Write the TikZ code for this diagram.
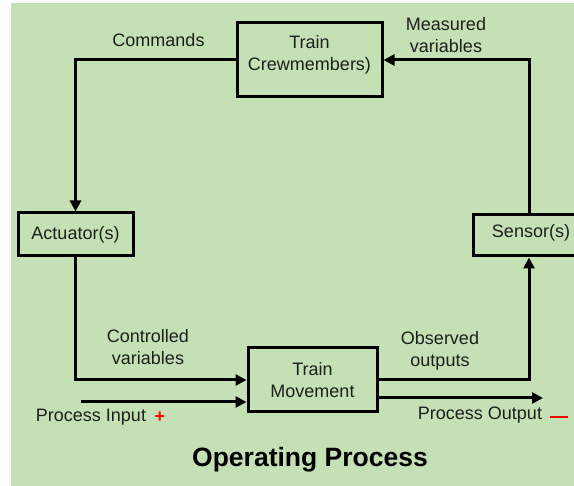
\documentclass[tikz,border=0pt]{standalone}
\usepackage{fontspec}
\setmainfont{Liberation Sans}
\usetikzlibrary{arrows.meta}
\definecolor{bggreen}{RGB}{197,224,180}
\definecolor{ink}{RGB}{30,30,30}

\begin{document}
\begin{tikzpicture}[x=1pt,y=-1pt,
  box/.style={draw=black, line width=3pt, minimum width=#1},
  txt/.style={text=ink, font=\fontsize{18}{22}\selectfont, align=center, inner sep=0pt},
  flow/.style={line width=3pt, -{Triangle[length=11pt,width=11pt]}}]
\useasboundingbox (0,0) rectangle (574,486);
\clip (0,0) rectangle (574,486);
\fill[bggreen] (11,3) rectangle (574,486);

% blocks
\node[box=145pt, minimum height=74pt] (crew) at (309.5,60) {};
\node[txt] (crewtxt) at ([yshift=5pt]crew.center) {Train\\Crewmembers)};
\node[box=115pt, minimum height=43pt, txt, draw] (act) at (75.5,234.5) {Actuator(s)};
\node[box=112pt, minimum height=41pt] (sens) at (529,235.5) {};
\node[txt] (senstxt) at (531,233) {Sensor(s)};
\node[box=129pt, minimum height=64pt, txt, draw] (move) at (312.5,380) {Train\\Movement};

% loop
\draw[flow] (crew.west) -| (act.north);
\draw[flow] (sens.north) |- (crew.east);
\draw[flow] (act.south) |- (move.west);
\draw[flow] (move.east) -| (sens.south);

% process in / out
\coordinate (inp) at (81,402);
\coordinate (outp) at (543,398);
\draw[flow] (inp) -- (move.west |- inp);
\draw[flow] (move.east |- outp) -- (outp);

% labels
\node[txt] (cmd) at (158.5,40) {Commands};
\node[txt] (meas) at (446,35) {Measured\\variables};
\node[txt] (ctrl) at (148,347) {Controlled\\variables};
\node[txt] (obs) at (440,351) {Observed\\outputs};
\node[txt] (pin) at (91,417) {Process Input};
\node[txt, text=red, font=\fontsize{18}{20}\selectfont\bfseries] (plus) at (160,417) {+};
\node[txt] (pout) at (480,415) {Process Output};
\draw[red, line width=2.6pt] (550,417) -- (568,417);
\node[txt, font=\fontsize{26.5}{30}\selectfont\bfseries, text=black] (title) at (310,460) {Operating Process};
\end{tikzpicture}
\end{document}
